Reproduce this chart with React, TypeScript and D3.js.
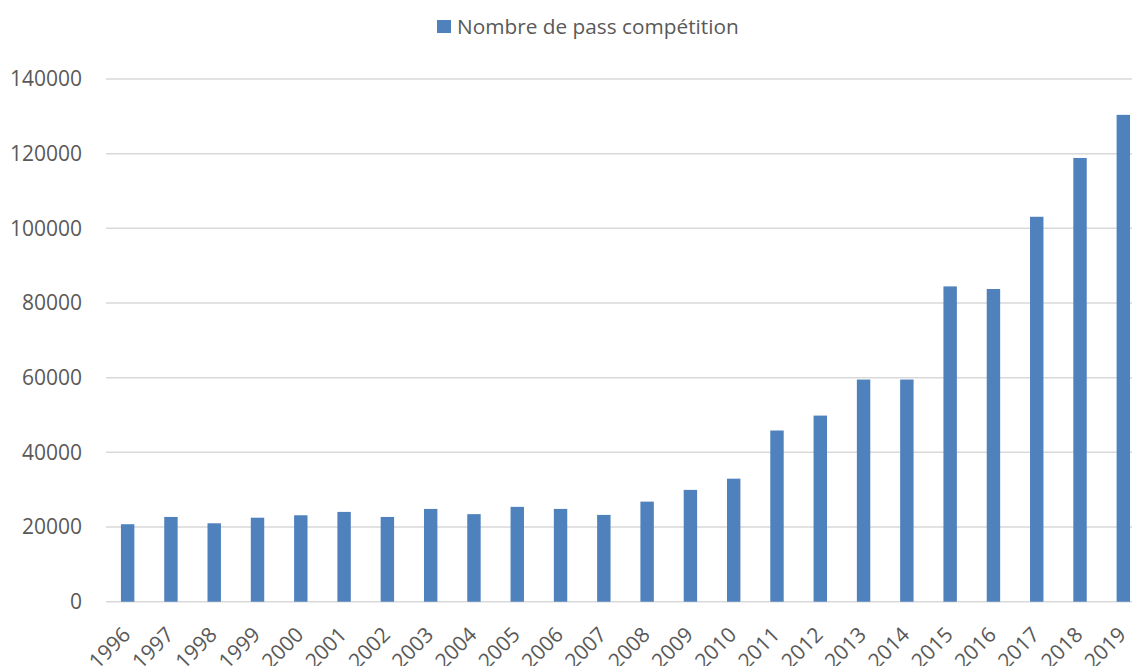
import React, { useRef, useEffect } from 'react';
import * as d3 from 'd3';

const years: string[] = [
  '1996', '1997', '1998', '1999', '2000', '2001', '2002', '2003', '2004', '2005', '2006', '2007',
  '2008', '2009', '2010', '2011', '2012', '2013', '2014', '2015', '2016', '2017', '2018', '2019',
];

const passCounts: number[] = [
  20750, 22700, 21000, 22500, 23150, 24050, 22700, 24850, 23450, 25400, 24850, 23250,
  26800, 29950, 32950, 45850, 49850, 59500, 59500, 84450, 83750, 103100, 118850, 130400,
];

const yTicks: number[] = [0, 20000, 40000, 60000, 80000, 100000, 120000, 140000];

const seriesName = 'Nombre de pass compétition';

const width = 1132;
const height = 666;
const FONT = '"Open Sans", "Noto Sans", sans-serif';
const TEXT = '#595959';
const BAR = '#4f81bd';

const App: React.FC = () => {
  const svgRef = useRef<SVGSVGElement | null>(null);

  useEffect(() => {
    if (!svgRef.current) return;
    const svg = d3.select(svgRef.current);
    svg.selectAll('*').remove();

    const left = 106;
    const step = 43.29;
    const x = d3.scaleBand<string>()
      .domain(years)
      .range([left, left + step * years.length])
      .paddingInner(0.69)
      .paddingOuter(0.345);

    const y = d3.scaleLinear()
      .domain([0, 140000])
      .range([601.7, 79]);

    // gridlines
    svg.append('g')
      .selectAll('line')
      .data(yTicks)
      .enter()
      .append('line')
      .attr('x1', left)
      .attr('x2', width)
      .attr('y1', d => y(d))
      .attr('y2', d => y(d))
      .attr('stroke', '#d9d9d9')
      .attr('stroke-width', 1.5);

    // y labels
    svg.append('g')
      .selectAll('text')
      .data(yTicks)
      .enter()
      .append('text')
      .attr('x', 82)
      .attr('y', d => y(d))
      .attr('dy', '0.35em')
      .attr('text-anchor', 'end')
      .attr('font-family', FONT)
      .attr('font-size', 21)
      .attr('fill', TEXT)
      .text(d => String(d));

    // bars
    svg.append('g')
      .selectAll('rect')
      .data(passCounts)
      .enter()
      .append('rect')
      .attr('x', (_, i) => x(years[i]) as number)
      .attr('y', d => y(d))
      .attr('width', x.bandwidth())
      .attr('height', d => y(0) - y(d))
      .attr('fill', BAR);

    // x labels
    svg.append('g')
      .selectAll('text')
      .data(years)
      .enter()
      .append('text')
      .attr('transform', d => {
        const cx = (x(d) as number) + x.bandwidth() / 2 + 4;
        return `translate(${cx},636) rotate(-45)`;
      })
      .attr('text-anchor', 'end')
      .attr('font-family', FONT)
      .attr('font-size', 21)
      .attr('fill', TEXT)
      .text(d => d);

    // legend
    const legend = svg.append('g');
    legend.append('rect')
      .attr('x', 437)
      .attr('y', 20)
      .attr('width', 14)
      .attr('height', 13)
      .attr('fill', BAR);
    legend.append('text')
      .attr('x', 457)
      .attr('y', 27)
      .attr('dy', '0.35em')
      .attr('font-family', FONT)
      .attr('font-size', 20.8)
      .attr('fill', TEXT)
      .text(seriesName);
  }, []);

  return (
    <svg
      ref={svgRef}
      width={width}
      height={height}
      style={{ position: 'absolute', left: 0, top: 0, background: '#fff' }}
    ></svg>
  );
};

export default App;
